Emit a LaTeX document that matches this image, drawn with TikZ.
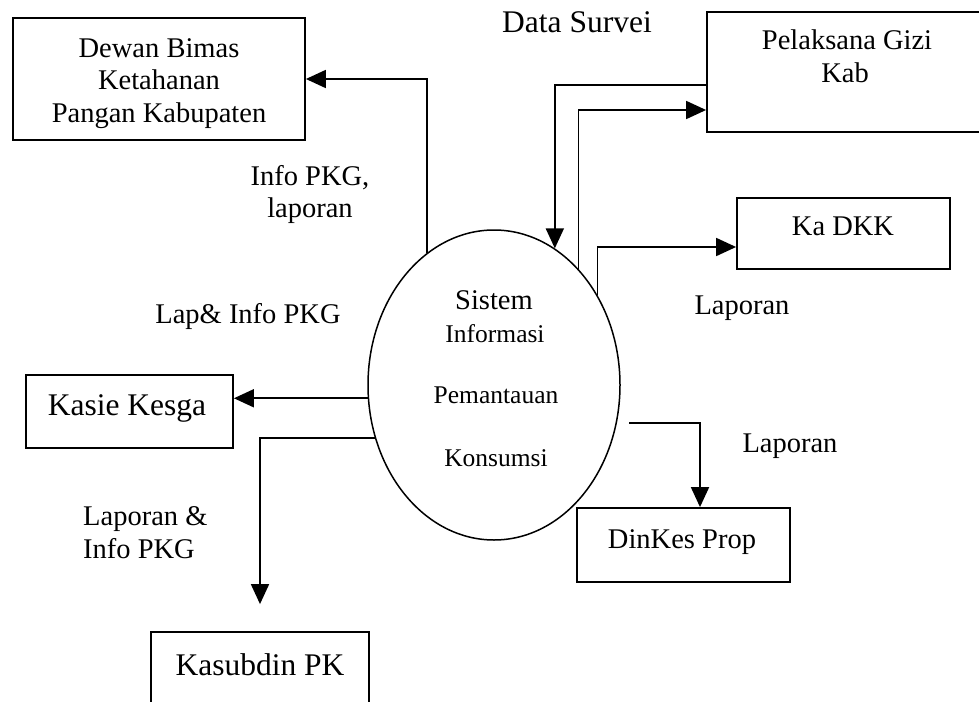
\documentclass[tikz,border=0pt]{standalone}
\usepackage{fontspec}
\setmainfont{Liberation Serif}
\usetikzlibrary{arrows.meta,shapes.geometric,calc}
\begin{document}
\begin{tikzpicture}[x=1pt,y=-1pt,
  box/.style={draw,line width=1.8pt,rectangle,inner sep=0pt},
  proc/.style={draw,ellipse,line width=1.5pt,inner sep=0pt},
  txt/.style={inner sep=0pt,anchor=base,font=\fontsize{28.5}{32}\selectfont},
  big/.style={font=\fontsize{31.5}{36}\selectfont},
  small/.style={font=\fontsize{25.5}{30}\selectfont},
  arr/.style={line width=1.8pt,-{Triangle[length=20pt,width=18pt]}},
]
\clip (0,0) rectangle (979,701);

% external entities
\node[box,minimum width=292pt,minimum height=122pt] (dewan)  at (159,79) {};
\node[box,minimum width=280pt,minimum height=120pt] (pgiz)   at (847,72) {};
\node[box,minimum width=213pt,minimum height=71pt]  (kadkk)  at (843.5,233.5) {};
\node[box,minimum width=207pt,minimum height=73pt]  (kasie)  at (129.5,411.5) {};
\node[box,minimum width=213pt,minimum height=74pt]  (dinkes) at (683.5,545) {};
\node[box,minimum width=218pt,minimum height=84pt]  (kasub)  at (260,674) {};

% central process
\node[proc,minimum width=252pt,minimum height=310pt] (sys) at (494,385) {};

% entity names
\node[txt] (dewan1) at (159,57)  {Dewan Bimas};
\node[txt] (dewan2) at (159,89)  {Ketahanan};
\node[txt] (dewan3) at (159,122) {Pangan Kabupaten};
\node[txt] (pgiz1)  at (847,50)  {Pelaksana Gizi};
\node[txt] (pgiz2)  at (845,82.5) {Kab};
\node[txt] (kadkkt) at (843,235) {Ka DKK};
\node[txt,big] (kasiet) at (127,415) {Kasie Kesga};
\node[txt] (dinkest) at (682,548) {DinKes Prop};
\node[txt,big] (kasubt) at (260,675) {Kasubdin PK};

% process name
\node[txt] (sys1) at (494,309) {Sistem};
\node[txt,small] (sys2) at (495,342) {Informasi};
\node[txt,small] (sys3) at (496,403) {Pemantauan};
\node[txt,small] (sys4) at (496,466) {Konsumsi};

% data flows
\draw[arr] (sys.117) |- (dewan.east);
\draw[arr] ($(pgiz.west)+(0,13)$) -| (sys.66);
\draw[arr] (sys.54) |- ($(pgiz.west)+(0,38)$);
\draw[arr] (sys.41) |- ($(kadkk.west)+(0,13.5)$);
\draw[arr,shorten <=12pt] (sys.-17.3) -| ($(dinkes.north)+(16.5,0)$);
\draw[arr] (sys.186) -- (sys.186 -| kasie.east);
\draw[arr,shorten >=27pt] (sys.204.6) -| (kasub.north);

% flow labels
\node[txt,big] (lds) at (577,33) {Data Survei};
\node[txt] (linfo1) at (310,185) {Info PKG,};
\node[txt] (linfo2) at (310,217) {laporan};
\node[txt] (llap) at (248,323) {Lap\& Info PKG};
\node[txt] (llapa) at (742,314) {Laporan};
\node[txt] (llapb) at (790,452) {Laporan};
\node[txt,anchor=base west] (llapc1) at (83,525) {Laporan \&};
\node[txt,anchor=base west] (llapc2) at (83,558) {Info PKG};
\end{tikzpicture}
\end{document}
